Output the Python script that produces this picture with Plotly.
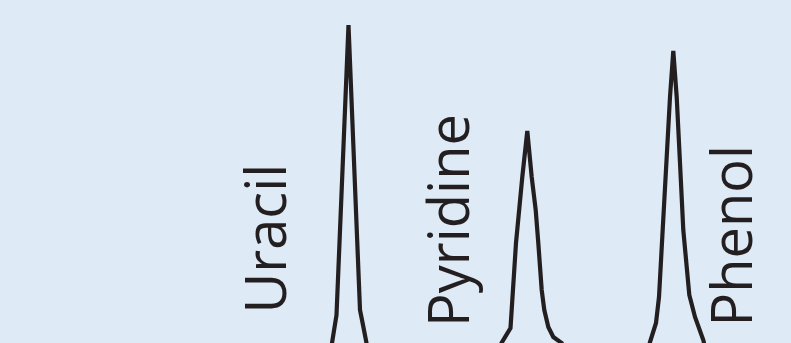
import plotly.graph_objects as go

# Chromatogram trace: retention time (min) and detector signal (mAU)
time_min = [3.20, 3.30, 3.32, 3.365, 3.485, 3.60, 3.63, 3.665, 3.69, 3.75,
            4.95, 5.015, 5.105, 5.12, 5.16, 5.223, 5.273, 5.317, 5.357, 5.383,
            5.417, 5.443, 5.483, 5.533, 5.617, 5.75,
            6.40, 6.50, 6.56, 6.59, 6.627, 6.66, 6.70, 6.733, 6.767, 6.80,
            6.833, 6.893, 6.95, 7.033, 7.08, 7.20, 7.91]
signal_mau = [-40, -17, 0, 28, 318, 33, 18, 0, -22, -40,
              -40, 0, 15, 38, 100, 166, 212, 166, 133, 100,
              53, 33, 16, 6, 0, -40,
              -40, 1, 20, 46, 113, 180, 246, 292, 246, 180,
              113, 48, 26, 3, -17, -40, -40]

peak_labels = ["Uracil", "Pyridine", "Phenol"]
label_time = [2.635, 4.47, 7.295]
label_signal = [104, 122, 107]

fig = go.Figure()
fig.add_trace(go.Scatter(
    x=time_min, y=signal_mau, mode="lines",
    line=dict(color="#231f20", width=4.2),
    hoverinfo="skip", showlegend=False,
))

for name, t, s in zip(peak_labels, label_time, label_signal):
    fig.add_annotation(
        x=t, y=s, text=name, textangle=-90, showarrow=False,
        xanchor="center", yanchor="middle",
        font=dict(family="Open Sans", size=56, color="#231f20"),
    )

bg = "#deeaf6"
fig.update_layout(
    width=791, height=343,
    margin=dict(l=0, r=0, t=0, b=0),
    paper_bgcolor=bg, plot_bgcolor=bg,
    xaxis=dict(range=[0, 7.91], visible=False, fixedrange=True),
    yaxis=dict(range=[0, 343], visible=False, fixedrange=True),
)

fig.write_html(
    "out.html",
    config={"displayModeBar": False},
    post_script="document.body.style.margin='0';document.body.style.padding='0';"
                "document.body.style.overflow='hidden';"
                "document.body.style.background='" + bg + "';",
)
